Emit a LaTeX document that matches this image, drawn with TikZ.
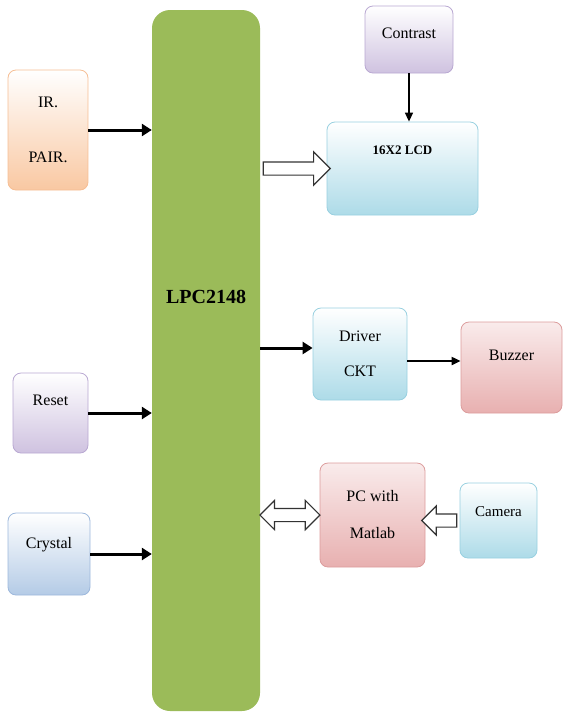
\documentclass[tikz,border=0pt]{standalone}
\usepackage{fontspec}
\setmainfont{Liberation Serif}
\usepackage{tikz}
\usepackage{xcolor}
\usetikzlibrary{arrows.meta,shapes.arrows}
\definecolor{lpcgreen}{HTML}{9BBB59}
\definecolor{peachfill}{HTML}{F9C8A2}
\definecolor{peachline}{HTML}{F6BE94}
\definecolor{lilacfill}{HTML}{CFC2E0}
\definecolor{lilacline}{HTML}{B9A8D2}
\definecolor{aquafill}{HTML}{ADDBE8}
\definecolor{aqualine}{HTML}{98D0E0}
\definecolor{rosefill}{HTML}{E8B0B0}
\definecolor{roseline}{HTML}{DC9C9C}
\definecolor{steelfill}{HTML}{B4CBE6}
\definecolor{steelline}{HTML}{9DB8DC}
\tikzset{
    soft-box/.style = {rectangle, rounded corners=8pt, align=center, line width=0.8pt, inner sep=2pt, font=\fontsize{16}{19}\selectfont},
    peach-box/.style = {soft-box, draw=peachline, top color=white, bottom color=peachfill},
    lilac-box/.style = {soft-box, draw=lilacline, top color=white, bottom color=lilacfill},
    aqua-box/.style = {soft-box, draw=aqualine, top color=white, bottom color=aquafill},
    rose-box/.style = {soft-box, draw=roseline, top color=rosefill!25, bottom color=rosefill},
    steel-box/.style = {soft-box, draw=steelline, top color=white, bottom color=steelfill},
    lift/.style = {text depth=#1},
    mcu-box/.style = {rectangle, rounded corners=18pt, fill=lpcgreen, minimum width=108pt, minimum height=701pt},
    bold-arrow/.style = {-{Triangle[length=10pt,width=12pt]}, line width=3pt},
    thin-arrow/.style = {-{Triangle[length=9pt,width=8pt]}, line width=#1},
    hollow-arrow/.style = {single arrow, draw=black!80, fill=white, line width=1.2pt, inner xsep=0pt, inner ysep=6pt, single arrow head extend=10pt},
    hollow-double/.style = {double arrow, draw=black!80, fill=white, line width=1.2pt, inner xsep=0pt, inner ysep=6pt, double arrow head extend=8pt},
}
\begin{document}
\begin{tikzpicture}[x=1pt, y=-1pt]
\useasboundingbox (0,0) rectangle (563,713);
\node[mcu-box] (mcu) at (206,360.5) {};
\node[font=\fontsize{20}{24}\selectfont\bfseries] (mcu-name) at (206,297) {LPC2148};

\node[peach-box, minimum width=80pt, minimum height=120pt] (ir) at (48,130) {IR.\\[36pt]PAIR.};
\node[lilac-box, minimum width=75pt, minimum height=80pt, lift=26pt] (reset) at (50.5,413) {Reset};
\node[steel-box, minimum width=82pt, minimum height=82pt, lift=22pt] (crystal) at (49,554) {Crystal};

\node[lilac-box, minimum width=88pt, minimum height=67pt, lift=13pt] (contrast) at (409,39.5) {Contrast};
\node[aqua-box, minimum width=151pt, minimum height=93pt, lift=37pt, font=\fontsize{13}{15}\selectfont\bfseries] (lcd) at (402.5,168.5) {16X2 LCD};
\node[aqua-box, minimum width=94pt, minimum height=92pt] (driver) at (360,354) {Driver\\[16pt]CKT};
\node[rose-box, minimum width=101pt, minimum height=91pt, lift=25pt] (buzzer) at (511.5,367.5) {Buzzer};
\node[rose-box, minimum width=105pt, minimum height=104pt] (pc) at (372.5,515) {PC with\\[18pt]Matlab};
\node[aqua-box, minimum width=77pt, minimum height=75pt, lift=17pt, font=\fontsize{15}{18}\selectfont] (camera) at (498.5,520.5) {Camera};

\draw[bold-arrow] (ir.east) -- (ir.east -| mcu.west);
\draw[bold-arrow] (reset.east) -- (reset.east -| mcu.west);
\draw[bold-arrow] (crystal.east) -- (crystal.east -| mcu.west);
\draw[bold-arrow, transform canvas={yshift=6pt}] (driver.west -| mcu.east) -- (driver.west);
\draw[thin-arrow=2pt, transform canvas={yshift=-7pt}] (driver.east) -- (driver.east -| buzzer.west);
\draw[thin-arrow=1.5pt] (contrast.south) -- (contrast.south |- lcd.north);

\path (lcd.west -| mcu.east) -- (lcd.west) node[midway, hollow-arrow, minimum height=67pt] (to-lcd) {};
\path (pc.west -| mcu.east) -- (pc.west) node[midway, hollow-double, minimum height=60pt] (to-pc) {};
\path (camera.west) -- (camera.west -| pc.east) node[midway, hollow-arrow, shape border rotate=180, minimum height=35pt, single arrow head extend=8pt] (from-camera) {};
\end{tikzpicture}
\end{document}
